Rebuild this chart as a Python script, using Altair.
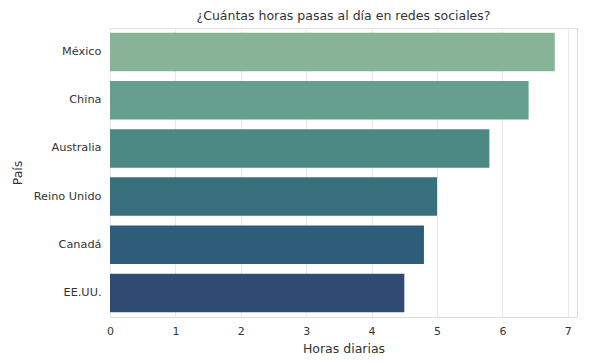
import altair as alt
import pandas as pd

paises = ["México", "China", "Australia", "Reino Unido", "Canadá", "EE.UU."]
horas = [6.8, 6.4, 5.8, 5.0, 4.8, 4.5]
colores = ["#87b396", "#669f8d", "#4c8985", "#37707c", "#2d5d7a", "#304b72"]
ticks_x = [0, 1, 2, 3, 4, 5, 6, 7]

df = pd.DataFrame({"País": paises, "Horas diarias": horas})

chart = alt.Chart(df).mark_bar().encode(
    x=alt.X("Horas diarias:Q",
            scale=alt.Scale(domain=[0, 7.14], nice=False, zero=True),
            axis=alt.Axis(values=ticks_x, format="d", title="Horas diarias",
                          grid=True, gridColor="#e8e8e8", ticks=False, domain=False,
                          labelFlush=False,
                          labelPadding=8, labelFontSize=11, labelColor="#333333",
                          titleFontSize=12.5, titleFontWeight="normal", titleColor="#333333",
                          titlePadding=6, labelFont="DejaVu Sans", titleFont="DejaVu Sans")),
    y=alt.Y("País:N", sort=paises,
            scale=alt.Scale(paddingInner=0.2, paddingOuter=0.1),
            axis=alt.Axis(title="País", ticks=False, domain=False, grid=False,
                          labelPadding=9, labelFontSize=11.3, labelColor="#333333",
                          titleFontSize=12.5, titleFontWeight="normal", titleColor="#333333",
                          titlePadding=9, labelFont="DejaVu Sans", titleFont="DejaVu Sans")),
    color=alt.Color("País:N", sort=paises,
                    scale=alt.Scale(domain=paises, range=colores), legend=None),
).properties(
    width=467,
    height=289,
    title=alt.Title("¿Cuántas horas pasas al día en redes sociales?",
                    fontSize=12.5, fontWeight="normal", color="#333333",
                    font="DejaVu Sans", offset=6),
    autosize=alt.AutoSizeParams(type="none"),
    padding={"left": 102, "top": 20, "right": 20, "bottom": 45},
).configure_view(
    stroke="#d0d0d0", strokeWidth=1.5
).configure(background="white")

chart.save("out.html", embed_options={"renderer": "svg", "actions": False})
